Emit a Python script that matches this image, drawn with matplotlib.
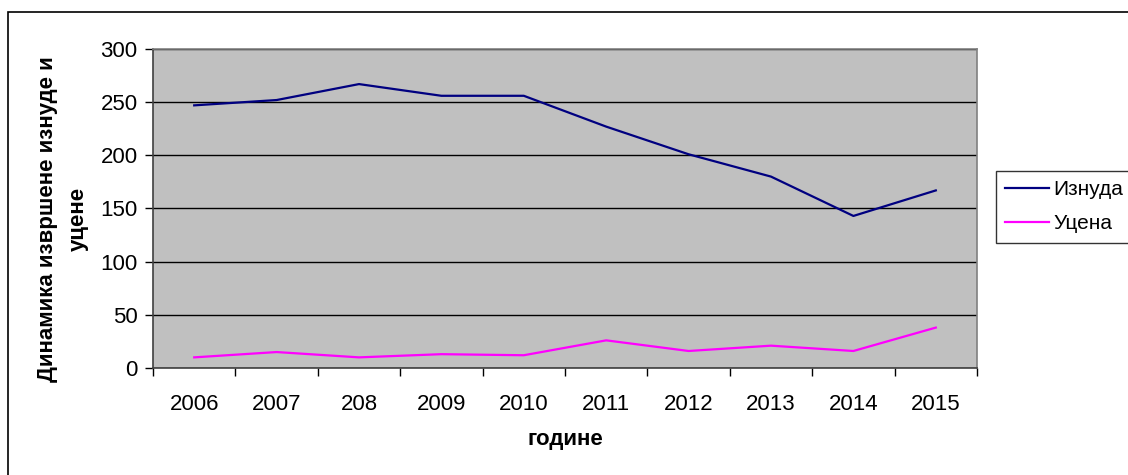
import matplotlib
matplotlib.use("Agg")
import matplotlib.pyplot as plt
from matplotlib.patches import Rectangle

plt.rcParams['font.family'] = ['Liberation Sans', 'DejaVu Sans']

years = ["2006", "2007", "208", "2009", "2010", "2011", "2012", "2013", "2014", "2015"]
iznuda = [247, 252, 267, 256, 256, 227, 201, 180, 143, 167]
ucena = [10, 15, 10, 13, 12, 26, 16, 21, 16, 38]

W, H = 1128, 475
fig = plt.figure(figsize=(W / 100, H / 100), dpi=100)
ax = fig.add_axes([153 / W, 1 - 368 / H, (977 - 153) / W, (368 - 49) / H])
ax.set_facecolor('#c0c0c0')

x = list(range(len(years)))
ax.plot(x, iznuda, color='#000080', lw=1.6, label='Изнуда')
ax.plot(x, ucena, color='#ff00ff', lw=1.6, label='Уцена')

ax.set_xlim(-0.5, len(years) - 0.5)
ax.set_ylim(0, 300)
ax.set_yticks(range(0, 301, 50))
ax.set_xticks(x)
ax.set_xticklabels(years)
ax.set_xticks([i - 0.5 for i in range(len(years) + 1)], minor=True)
ax.tick_params(axis='x', which='major', length=0, pad=19, labelsize=16)
ax.tick_params(axis='x', which='minor', length=6, width=1, direction='out')
ax.tick_params(axis='y', length=6, width=1, direction='out', labelsize=16, pad=5)
ax.yaxis.grid(True, color='black', lw=1)
ax.set_axisbelow(True)
for s in ['left', 'bottom']:
    ax.spines[s].set_color('#404040')
    ax.spines[s].set_linewidth(1.2)
for s in ['top', 'right']:
    ax.spines[s].set_color('#808080')
    ax.spines[s].set_linewidth(1.2)

ax.set_xlabel('године', fontsize=16, fontweight='bold')
ax.xaxis.set_label_coords(0.5, -(440 - 368) / (368 - 49), transform=ax.transAxes)
ax.xaxis.label.set_va('center')
ax.set_ylabel('Динамика извршене изнуде и\nуцене', fontsize=16, fontweight='bold',
              linespacing=1.65)
ax.yaxis.set_label_coords(-(153 - 63) / (977 - 153), (368 - 219) / (368 - 49),
                          transform=ax.transAxes)
ax.yaxis.label.set_va('center')

fig.patches.append(Rectangle((8 / W, -0.1), 1.2, 1 - 12 / H + 0.1, transform=fig.transFigure,
                             fill=False, edgecolor='black', lw=1.2, clip_on=False))

leg = fig.legend(loc='upper left', bbox_to_anchor=(996 / W, 1 - 171 / H), fontsize=15,
                 frameon=True, fancybox=False, edgecolor='black', handlelength=2.1,
                 handletextpad=0.2, borderpad=0.45, labelspacing=0.72, borderaxespad=0)
leg.get_frame().set_linewidth(1.0)

fig.savefig('out.png', dpi=100)
